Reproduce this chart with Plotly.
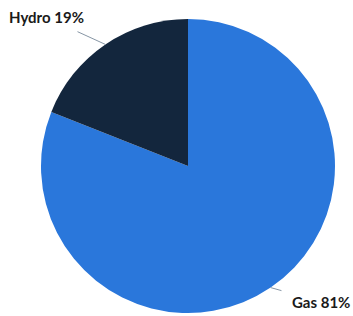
import math
import plotly.graph_objects as go

labels = ["Gas", "Hydro"]
values = [81, 19]
colors = ["#2A77DB", "#13263D"]

W, H = 353, 316
cx, cy, r = 188, 166, 147

fig = go.Figure(go.Pie(
    labels=labels, values=values, sort=False, direction="clockwise", rotation=0,
    marker=dict(colors=colors, line=dict(width=0)),
    textinfo="none", hoverinfo="label+percent", showlegend=False,
    domain=dict(x=[(cx - r) / W, (cx + r) / W], y=[1 - (cy + r) / H, 1 - (cy - r) / H]),
))

total = sum(values)
cum = 0
annos = []
offsets = {"Gas": (50, 14), "Hydro": (-59, -27)}
for lab, v in zip(labels, values):
    mid = (cum + v / 2) / total * 2 * math.pi
    cum += v
    px = cx + r * math.sin(mid)
    py = cy - r * math.cos(mid)
    ax, ay = offsets[lab]
    annos.append(dict(
        x=px / W, y=1 - py / H, xref="paper", yref="paper",
        text=f"<b>{lab} {round(v / total * 100)}%</b>",
        showarrow=True, arrowhead=0, arrowwidth=1, arrowcolor="#8796a5",
        ax=ax, ay=ay, startstandoff=9,
        font=dict(family="Lato, Open Sans, sans-serif", size=15, color="#1a1a1a"),
    ))

fig.update_layout(
    width=W, height=H, margin=dict(l=0, r=0, t=0, b=0),
    paper_bgcolor="white", plot_bgcolor="white", annotations=annos,
)
fig.write_html("out.html", config={"displayModeBar": False},
               post_script="document.body.style.margin='0';")
